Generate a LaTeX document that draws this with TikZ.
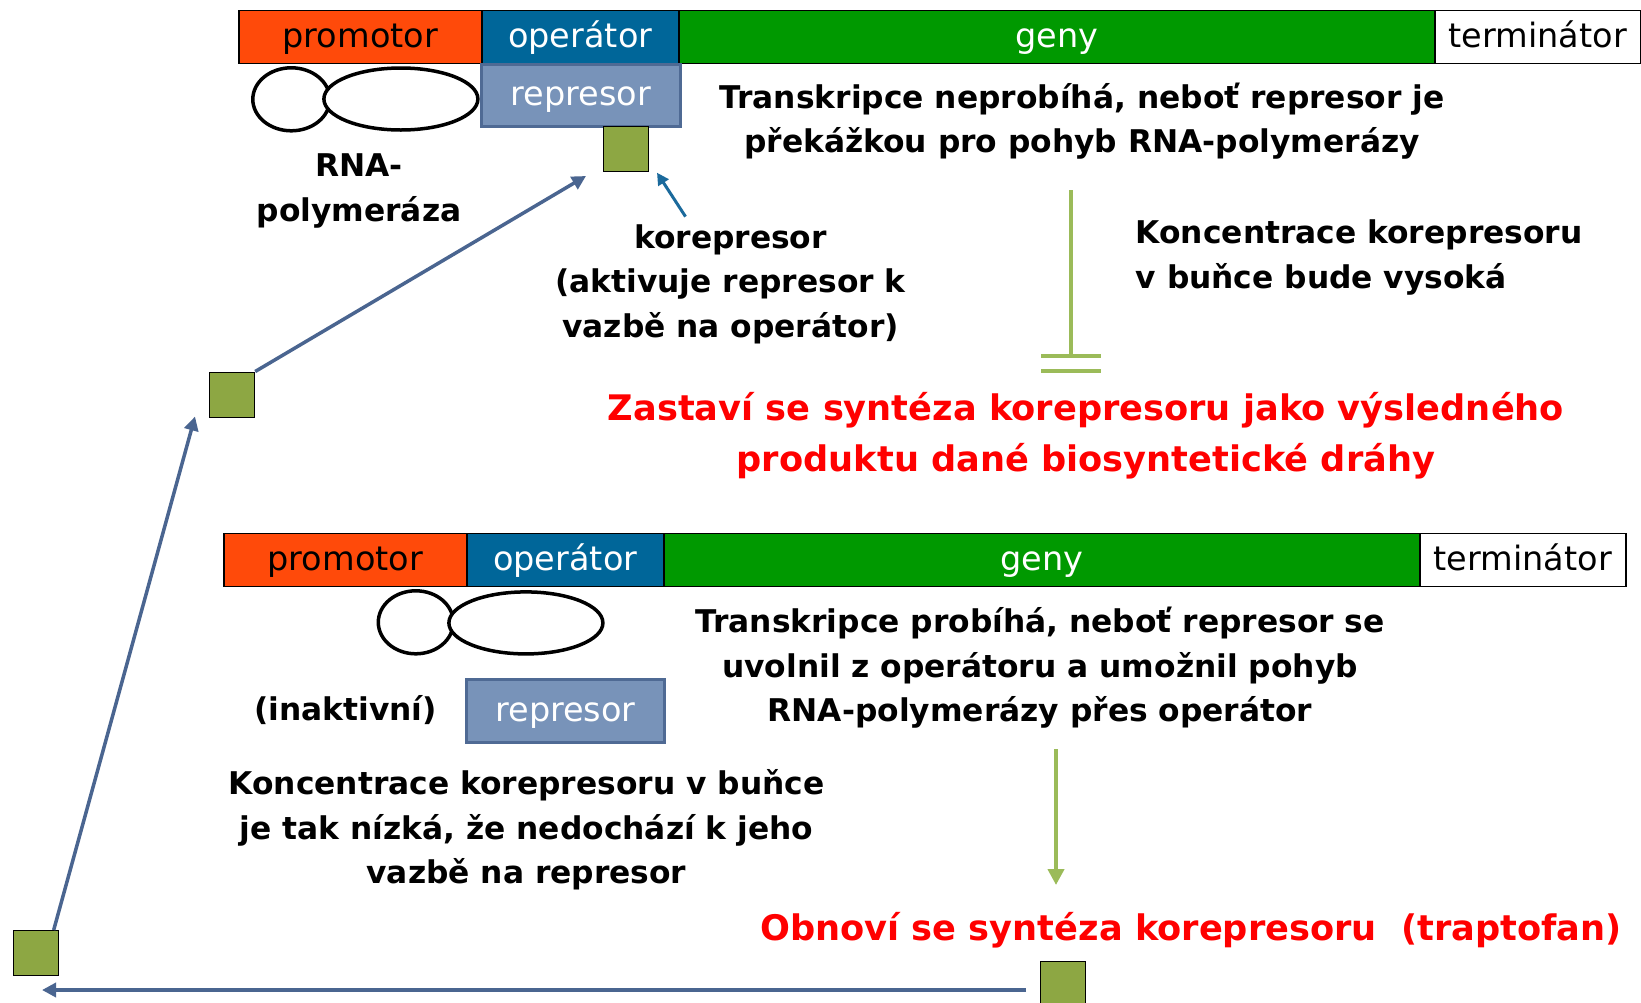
\documentclass[tikz,border=0pt]{standalone}
\usepackage{fontspec}
\setmainfont{DejaVu Sans}
\usetikzlibrary{arrows.meta,shapes.geometric}
\definecolor{promo}{HTML}{FF4A0A}
\definecolor{oper}{HTML}{006699}
\definecolor{genyc}{HTML}{009900}
\definecolor{repfill}{HTML}{7893B9}
\definecolor{repdraw}{HTML}{4F6A94}
\definecolor{sqfill}{HTML}{8DA743}
\definecolor{arrblue}{HTML}{4A6590}
\definecolor{arrcyan}{HTML}{1B6A9C}
\definecolor{olive}{HTML}{9BBB59}
\tikzset{
  seg/.style={draw=black, line width=1.5pt, anchor=north west, minimum height=53pt, inner sep=0pt, text height=29pt, text depth=8pt, font=\fontsize{33.5}{40}\selectfont},
  repbox/.style={draw=repdraw, fill=repfill, line width=3pt, anchor=north west, inner sep=0pt, text=white, text height=29pt, text depth=8pt, font=\fontsize{33.5}{40}\selectfont},
  sq/.style={draw=black, fill=sqfill, line width=1.2pt, anchor=north west, minimum width=45pt, minimum height=45pt, inner sep=0pt},
  lobe/.style={ellipse, draw=black, fill=white, line width=3.5pt, inner sep=0pt},
  btxt/.style={font=\bfseries\fontsize{31.3}{44.5}\selectfont, align=center, inner sep=0pt},
  rtxt/.style={font=\bfseries\fontsize{35.2}{51}\selectfont, text=red, align=center, inner sep=0pt},
  bluearr/.style={draw=arrblue, line width=3.5pt, -{Triangle[length=14pt,width=14pt]}},
  cyanarr/.style={draw=arrcyan, line width=3pt, -{Triangle[length=12pt,width=12pt]}},
  olivearr/.style={draw=olive, line width=4pt, -{Triangle[length=16pt,width=16pt]}},
  oliveln/.style={draw=olive, line width=4pt}
}
\begin{document}
\begin{tikzpicture}[x=1pt,y=-1pt]
\useasboundingbox (0,0) rectangle (1641,1002);
\clip (0,0) rectangle (1641,1002);
\fill[white] (0,0) rectangle (1641,1002);
% ---- top bar
\node[seg, fill=promo, minimum width=243pt] (p1) at (238,9.5) {promotor};
\node[seg, fill=oper, text=white, minimum width=197pt] (o1) at (481,9.5) {operátor};
\node[seg, fill=genyc, text=white, minimum width=756pt] (g1) at (678,9.5) {geny};
\node[seg, fill=white, minimum width=206pt] (t1) at (1434,9.5) {terminátor};
% top RNA polymerase
\node[lobe, minimum width=77pt, minimum height=63pt] (c1) at (291.3,99.3) {};
\node[lobe, minimum width=154pt, minimum height=62pt] (e1) at (400.9,99) {};
\node[repbox, minimum width=199pt, minimum height=62pt] (r1) at (480,62.7) {represor};
\node[sq] (s1) at (602.5,125.7) {};
\node[btxt] (rna) at (359,191) {RNA-\\polymeráza};
\node[btxt] (kor) at (730.5,284) {korepresor\\(aktivuje represor k\\vazbě na operátor)};
\node[btxt] (tr1) at (1082,121) {Transkripce neprobíhá, neboť represor je\\překážkou pro pohyb RNA-polymerázy};
\node[btxt, align=left, anchor=west] (k1) at (1135.5,257.5) {Koncentrace korepresoru\\v buňce bude vysoká};
\node[rtxt] (z1) at (1086,435.5) {Zastaví se syntéza korepresoru jako výsledného\\produktu dané biosyntetické dráhy};
% inhibition
\coordinate (ih1) at (1071,190);
\coordinate (ih2) at (1071,356);
\draw[oliveln] (ih1) -- (ih2);
\draw[oliveln] (1041,356) -- (1101,356);
\draw[oliveln] (1041,371) -- (1101,371);
% ---- bottom bar
\node[seg, fill=promo, minimum width=243pt] (p2) at (223,532.7) {promotor};
\node[seg, fill=oper, text=white, minimum width=197pt] (o2) at (466,532.7) {operátor};
\node[seg, fill=genyc, text=white, minimum width=756pt] (g2) at (663,532.7) {geny};
\node[seg, fill=white, minimum width=206pt] (t2) at (1419,532.7) {terminátor};
\node[lobe, minimum width=75pt, minimum height=63pt] (c2) at (415.8,622.3) {};
\node[lobe, minimum width=154pt, minimum height=62pt] (e2) at (525.9,622.9) {};
\node[repbox, minimum width=198pt, minimum height=63pt] (r2) at (465,677.7) {represor};
\node[btxt] (ina) at (345.4,710.5) {(inaktivní)};
\node[btxt] (tr2) at (1040,668) {Transkripce probíhá, neboť represor se\\uvolnil z operátoru a umožnil pohyb\\RNA-polymerázy přes operátor};
\node[btxt] (k2) at (526.5,830) {Koncentrace korepresoru v buňce\\je tak nízká, že nedochází k jeho\\vazbě na represor};
\node[rtxt] (ob) at (1191,930) {Obnoví se syntéza korepresoru \ (traptofan)};
\coordinate (ga1) at (1056,749);
\coordinate (ga2) at (1056,885);
\draw[olivearr] (ga1) -- (ga2);
% ---- squares and cycle arrows
\node[sq] (s2) at (209,371.5) {};
\node[sq] (s3) at (12.5,930) {};
\node[sq] (s4) at (1040,961) {};
\coordinate (a1end) at (586,176);
\coordinate (a2end) at (195,416.5);
\coordinate (a3start) at (1026,990);
\coordinate (a3end) at (42,990);
\coordinate (kstart) at (685.5,216.6);
\coordinate (kend) at (657,172.7);
\draw[bluearr] (s2.north east) -- (a1end);
\draw[bluearr] ([xshift=-5pt]s3.north east) -- (a2end);
\draw[bluearr] (a3start) -- (a3end);
\draw[cyanarr] (kstart) -- (kend);
\end{tikzpicture}
\end{document}
